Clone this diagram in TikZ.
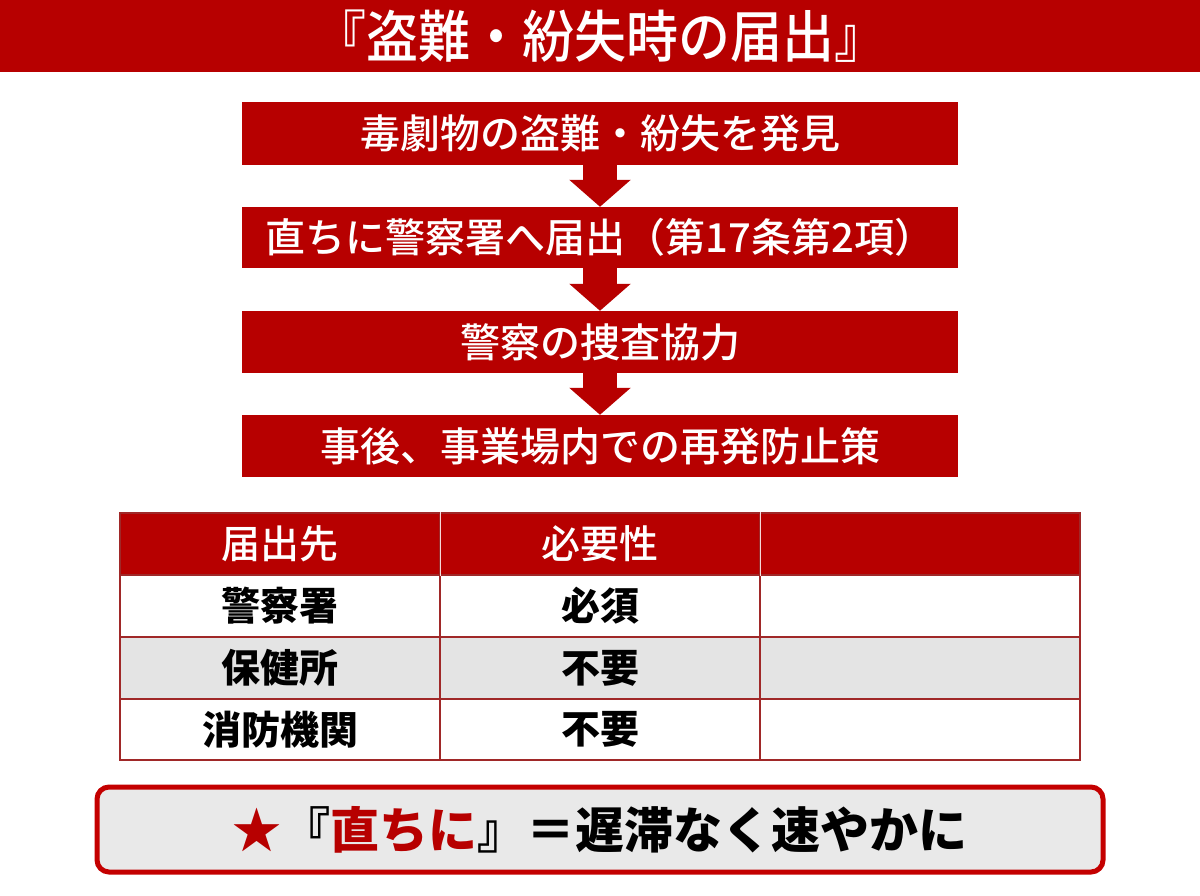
\documentclass[tikz,border=0pt]{standalone}
\usepackage{fontspec}
\setmainfont{Noto Sans CJK JP}[BoldFont={Noto Sans CJK JP Medium}]
\newfontfamily\jpheavy{Noto Sans CJK JP}
\usetikzlibrary{arrows.meta}
\definecolor{mainred}{RGB}{183,0,0}
\definecolor{tborder}{RGB}{160,40,40}
\definecolor{rowgray}{RGB}{228,228,228}
\definecolor{boxgray}{RGB}{233,233,233}
\definecolor{boxred}{RGB}{196,0,0}
\tikzset{
  flowbox/.style={fill=mainred, text=white, minimum width=716pt, inner sep=0pt,
    font=\bfseries\fontsize{40}{48}\selectfont},
  flowarrow/.style={draw=mainred, line width=34pt, -{Triangle[length=27pt,width=60pt]}},
  cell/.style={draw=tborder, line width=1.3pt, minimum width=320pt, minimum height=62pt,
    inner sep=0pt},
  headcell/.style={cell, fill=mainred, text=white, font=\bfseries\fontsize{39}{46}\selectfont},
  bodycell/.style={cell, fill=white, text=black, font=\jpheavy\bfseries\fontsize{39}{46}\selectfont},
  graycell/.style={bodycell, fill=rowgray},
}
\begin{document}
\begin{tikzpicture}[x=1pt, y=-1pt]
\useasboundingbox[fill=white] (0,0) rectangle (1200,896);
% title bar
\node[fill=mainred, minimum width=1200pt, minimum height=72pt, inner sep=0pt, text=white,
  font=\bfseries\fontsize{52}{60}\selectfont] (title) at (600,36) {\scalebox{1}[1.08]{『盗難・紛失時の届出』}};
% flow
\node[flowbox, minimum height=63pt] (b1) at (600,133.5) {毒劇物の盗難・紛失を発見};
\node[flowbox, minimum height=61pt] (b2) at (600,237.5) {直ちに警察署へ届出（第17条第2項）};
\node[flowbox, minimum height=62pt] (b3) at (600,342) {警察の捜査協力};
\node[flowbox, minimum height=62pt] (b4) at (600,446) {事後、事業場内での再発防止策};
\draw[flowarrow] (b1.south) -- (b2.north);
\draw[flowarrow] (b2.south) -- (b3.north);
\draw[flowarrow] (b3.south) -- (b4.north);
% table
\node[headcell] (h1) at (280,544) {届出先};
\node[headcell] (h2) at (600,544) {必要性};
\node[headcell] (h3) at (920,544) {};
\node[bodycell] (r11) at (280,606) {警察署};
\node[bodycell] (r12) at (600,606) {必須};
\node[bodycell] (r13) at (920,606) {};
\node[graycell] (r21) at (280,668) {保健所};
\node[graycell] (r22) at (600,668) {不要};
\node[graycell] (r23) at (920,668) {};
\node[bodycell, minimum height=61pt] (r31) at (280,729.5) {消防機関};
\node[bodycell, minimum height=61pt] (r32) at (600,729.5) {不要};
\node[bodycell, minimum height=61pt] (r33) at (920,729.5) {};
\draw[white!85!mainred, line width=1.3pt] (h1.north east) -- (h1.south east);
\draw[white!85!mainred, line width=1.3pt] (h2.north east) -- (h2.south east);
% bottom note
\node[draw=boxred, fill=boxgray, line width=5pt, rounded corners=12pt,
  minimum width=1006pt, minimum height=85pt, inner sep=0pt,
  font=\jpheavy\bfseries\fontsize{49}{57}\selectfont] (note) at (600,829.5)
  {\textcolor{mainred}{★}『\textcolor{mainred}{直ちに}』＝遅滞なく速やかに};
\end{tikzpicture}
\end{document}
